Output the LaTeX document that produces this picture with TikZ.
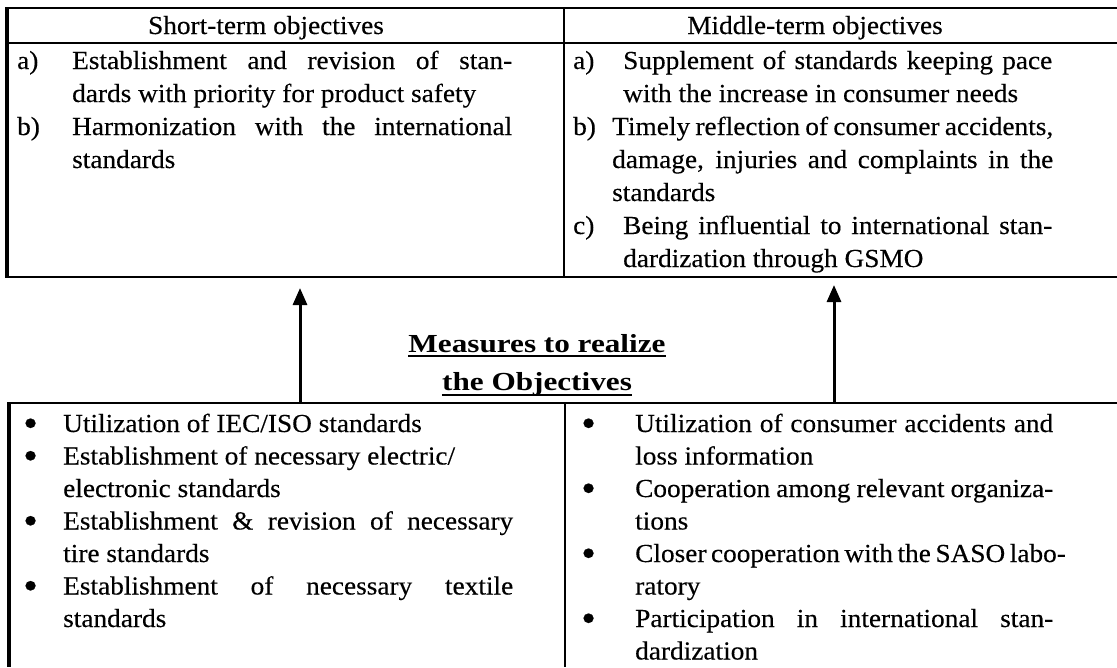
\documentclass[tikz,border=0pt]{standalone}
\usepackage{fontspec}
\setmainfont{Liberation Serif}[FakeStretch=1.05,FakeBold=0.3]
\newfontfamily\headfont{Liberation Serif}[FakeStretch=1.2]
\usetikzlibrary{arrows.meta}
% lines of a list cell, set one box per line
% \firstj{label width}{label}{text width}{text}: first line, justified
\newcommand\firstj[4]{\hbox{\hbox to #1pt{#2\hfil}\hbox to #3pt{#4}}}
% \firstn{label width}{label}{text}: first line, natural width
\newcommand\firstn[3]{\hbox{\hbox to #1pt{#2\hfil}#3}}
% \contj{indent}{text width}{text}: continuation line, justified
\newcommand\contj[3]{\hbox{\hskip#1pt\hbox to #2pt{#3}}}
% \contn{indent}{text}: continuation line, natural width
\newcommand\contn[2]{\hbox{\hskip#1pt#2}}
% a cell: lines stacked with a fixed baseline distance, first baseline on top
\newcommand\cell[2]{\vtop{\baselineskip=#1pt\lineskiplimit=-20pt #2}}
% a large round bullet sitting at mid x-height, taking no vertical room
\newcommand\bigdot{\raisebox{-4.5pt}[0pt][0pt]{\fontsize{40}{40}\selectfont\textbullet}}
\begin{document}
\begin{tikzpicture}[x=1pt,y=-1pt,
  rule/.style={line width=2.5pt},
  thinrule/.style={line width=2pt},
  edge/.style={line width=3.5pt},
  body/.style={inner sep=0pt, anchor=base west, font=\fontsize{26}{32.5}\selectfont},
  head/.style={inner sep=0pt, anchor=base, font=\fontsize{26}{30}\selectfont},
  caption/.style={inner sep=0pt, anchor=base,
    font=\headfont\bfseries\fontsize{26}{30}\selectfont},
  uline/.style={line width=1.6pt},
  up/.style={line width=3pt, -{Triangle[width=14pt,length=17pt]}}]
\useasboundingbox[fill=white] (0,0) rectangle (1117,667);

% objectives table
\draw[rule] (5,8) -- (1117,8);
\draw[thinrule] (7,43) -- (1117,43);
\draw[rule] (5,277) -- (1117,277);
\draw[edge] (7,7) -- (7,278);
\draw[rule] (564,8) -- (564,277);

\node[head] (sthead) at (266,34) {Short-term objectives};
\node[head] (mthead) at (815,34) {Middle-term objectives};

\node[body] (stbody) at (17,69) {\cell{33}{%
  \firstj{55}{a)}{440}{Establishment and revision of stan-}
  \contn{55}{dards with priority for product safety}
  \firstj{55}{b)}{440}{Harmonization with the international}
  \contn{55}{standards}}};

\node[body] (mtbody) at (573,69) {\cell{33}{%
  \firstj{50}{a)}{429}{Supplement of standards keeping pace}
  \contn{50}{with the increase in consumer needs}
  \firstj{39}{b)}{441}{Timely reflection of consumer accidents,}
  \contj{39}{441}{damage, injuries and complaints in the}
  \contn{39}{standards}
  \firstj{50}{c)}{429}{Being influential to international stan-}
  \contn{50}{dardization through GSMO}}};

% caption between the tables
\node[caption] (measA) at (537,352) {Measures to realize};
\node[caption] (measB) at (537,390) {the Objectives};
\draw[uline] ([yshift=-4pt]measA.base west) -- ([yshift=-4pt]measA.base east);
\draw[uline] ([yshift=-5pt]measB.base west) -- ([yshift=-5pt]measB.base east);

% measures table
\draw[rule] (7,403) -- (1117,403);
\draw[edge] (9,402) -- (9,667);
\draw[rule] (565,403) -- (565,667);

\node[body] (mlbody) at (23,432) {\cell{32.5}{%
  \firstn{40}{\bigdot}{Utilization of IEC/ISO standards}
  \firstn{40}{\bigdot}{Establishment of necessary electric/}
  \contn{40}{electronic standards}
  \firstj{40}{\bigdot}{450}{Establishment \& revision of necessary}
  \contn{40}{tire standards}
  \firstj{40}{\bigdot}{450}{Establishment of necessary textile}
  \contn{40}{standards}}};

\node[body] (mrbody) at (581,432) {\cell{32.5}{%
  \firstj{54}{\bigdot}{418}{Utilization of consumer accidents and}
  \contn{54}{loss information}
  \firstj{54}{\bigdot}{418}{Cooperation among relevant organiza-}
  \contn{54}{tions}
  \firstj{54}{\bigdot}{418}{Closer cooperation with the SASO labo-}
  \contn{54}{ratory}
  \firstj{54}{\bigdot}{418}{Participation in international stan-}
  \contn{54}{dardization}}};

% measures feed the objectives
\coordinate (mlfoot) at (300,403);
\coordinate (stfoot) at (300,288);
\coordinate (mrfoot) at (834,403);
\coordinate (mtfoot) at (834,285);
\draw[up] (mlfoot) -- (stfoot);
\draw[up] (mrfoot) -- (mtfoot);
\end{tikzpicture}
\end{document}
